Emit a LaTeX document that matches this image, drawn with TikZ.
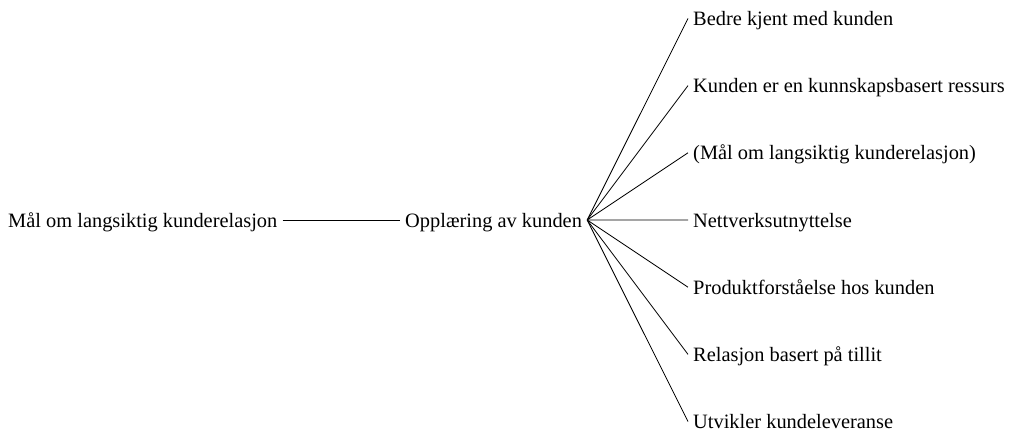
\documentclass[tikz,border=0pt]{standalone}
\usepackage{fontspec}
\setmainfont{Liberation Serif}
\begin{document}
\begin{tikzpicture}[x=1pt, y=-1pt,
  lbl/.style={anchor=west, inner sep=5pt, text height=14pt, text depth=0pt,
    font=\fontsize{20.4}{24}\selectfont},
  edge/.style={line width=0.8pt}]

  % Fix the canvas to the reference size
  \useasboundingbox (0,0) rectangle (1009,433);

  % The goal on the left and the training node in the middle
  \node[lbl] (goal) at (3,220) {Mål om langsiktig kunderelasjon};
  \node[lbl] (train) at (400,220) {Opplæring av kunden};

  % Draw the link between goal and training
  \draw[edge] (goal) -- (train);

  % Add the seven outcomes on the right, spaced evenly around the middle row
  \foreach \i/\txt in {0/Bedre kjent med kunden,
                       1/Kunden er en kunnskapsbasert ressurs,
                       2/(Mål om langsiktig kunderelasjon),
                       3/Nettverksutnyttelse,
                       4/Produktforståelse hos kunden,
                       5/Relasjon basert på tillit,
                       6/Utvikler kundeleveranse} {
    \node[lbl] (out\i) at (688,220+67.2*\i-201.6) {\txt};
    % Fan each outcome out from the training node
    \draw[edge] (train.east) -- (out\i.west);
  }

\end{tikzpicture}
\end{document}
